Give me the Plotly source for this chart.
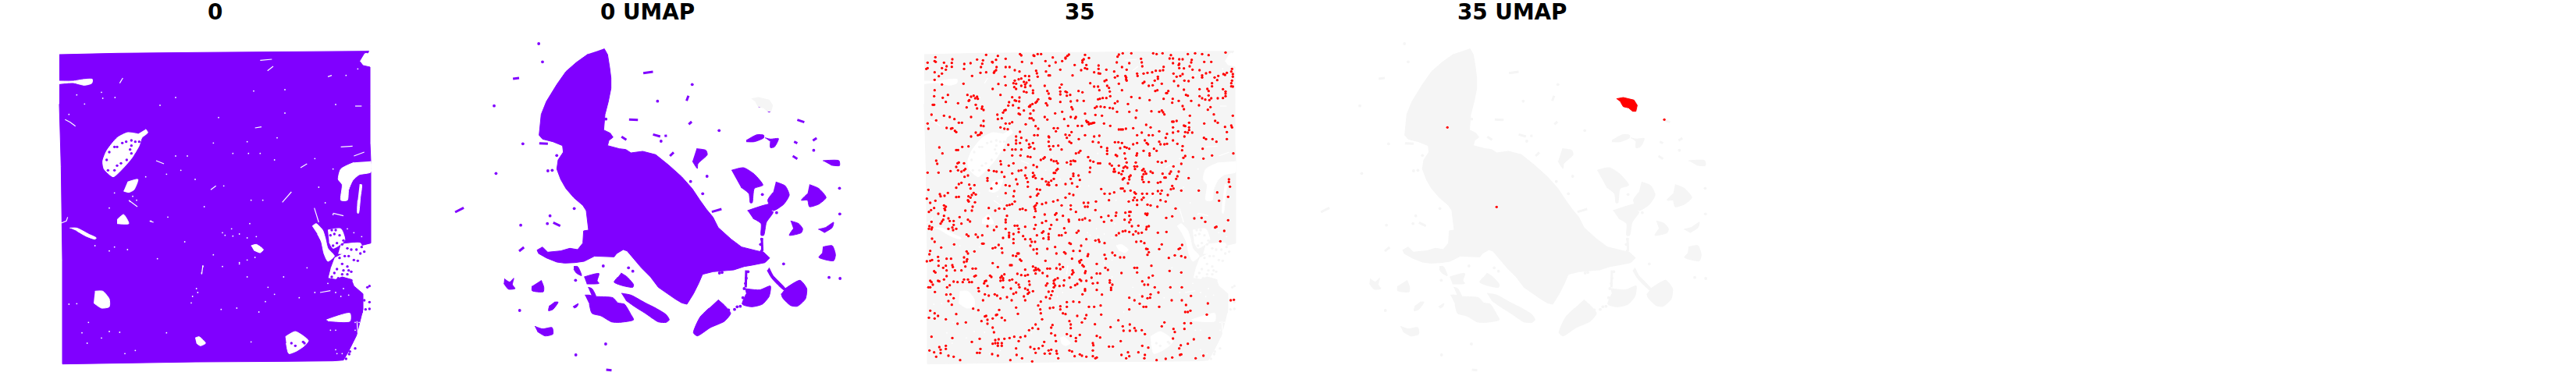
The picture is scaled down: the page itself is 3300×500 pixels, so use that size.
import plotly.graph_objects as go

PURPLE = "#8000ff"
GRAY = "#f5f5f5"
RED = "#ff0000"
TITLES = ["0", "0 UMAP", "35", "35 UMAP"]

# ---- tissue panel (panels "0" and "35") : coordinates
TISSUE_OUTLINE = [(78,210),(300,205),(600,202),(850,200),(1000,197),(1240,195),(1268,197),(1250,205),(1232,235),(1245,252),(1272,258),(1272,400),(1272,550),(1275,620),(1275,935),(1235,945),(1210,955),(1165,975),(1135,990),(1120,1030),(1110,1070),(1140,1075),(1165,1065),(1200,1075),(1210,1100),(1245,1130),(1245,1190),(1230,1250),(1220,1290),(1190,1350),(1170,1385),(1130,1388),(960,1388),(945,1390),(600,1392),(90,1400),(90,1000),(85,640),(78,400)]
TISSUE_HOLES = [
 [(410,497),(418,510),(395,530),(385,560),(355,610),(320,650),(285,680),(250,650),(245,620),(260,580),(300,530),(340,510),(380,515)],
 [(1275,620),(1275,662),(1230,672),(1205,695),(1190,730),(1185,770),(1160,770),(1165,710),(1150,690),(1160,650),(1210,625)],
 [(1232,710),(1240,710),(1235,760),(1228,820),(1224,820),(1225,770)],
 [(78,312),(130,312),(175,305),(205,305),(203,320),(175,328),(130,318),(78,322)],
 [(118,877),(145,877),(190,900),(220,915),(215,920),(180,908),(145,888)],
 [(215,1120),(245,1120),(270,1150),(270,1180),(240,1185),(210,1165)],
 [(947,1295),(985,1275),(1035,1310),(1020,1330),(990,1350),(960,1360),(950,1320)],
 [(1105,1230),(1195,1205),(1195,1235),(1110,1234)],
 [(600,1300),(615,1295),(640,1320),(620,1330),(605,1320)],
 [(815,945),(835,940),(862,960),(850,972),(825,962)],
 [(1050,870),(1065,860),(1090,885),(1100,915),(1110,955),(1135,985),(1110,1005),(1095,975),(1085,930),(1070,900)],
 [(1110,885),(1160,880),(1175,925),(1130,955),(1115,930)],
 [(1160,940),(1235,935),(1240,950),(1190,975),(1150,975)],
 [(340,700),(380,690),(365,730),(345,740),(325,735)],
 [(300,845),(325,825),(345,860),(300,860)],
]
TISSUE_CRACKS = [
 [(100,460),(120,470),(140,485)],[(85,858),(105,850),(110,835)],[(310,320),(322,300)],[(1110,295),(1125,290)],
 [(830,492),(855,488)],[(935,778),(970,738)],[(1080,1125),(1120,1118)],[(1215,408),(1240,408)],[(1160,565),(1205,562)],
 [(1005,645),(1030,630)],[(630,1020),(625,1055)],
 [(345,770),(378,795)],[(850,232),(895,228)],[(878,272),(900,255)],[(1058,800),(1075,855)],[(1222,1235),(1225,1280)],
 [(450,618),(480,630)],[(660,730),(680,715)],[(425,850),(440,855)],[(1130,820),(1170,830)],[(1210,600),(1250,585)],
]
TISSUE_SPECKS = [(115,440),(145,365),(175,400),(240,355),(245,378),(292,375),(465,405),(525,375),(945,345),(825,350),(1140,402),(690,452),(945,435),(915,530),(670,550),(800,545),(745,590),(805,590),(850,590),(905,615),(1060,610),(525,600),(570,600),(545,655),(490,670),(600,690),(710,715),(815,770),(860,770),(635,795),(495,835),(455,995),(560,930),(340,960),(270,800),(290,742),(215,945),(670,980),(705,1025),(770,1015),(815,1315),(490,1280),(165,1280),(190,1240),(145,1168),(115,1170),(310,1278),(240,1300),(270,1275),(1000,1145),(940,1065),(1030,1030),(1120,1270),(1140,1270),(1145,1360),(330,1360),(370,1348),(185,1320),(800,1065),(880,1105),(905,1132),(870,1160),(845,1200),(760,1185),(700,1190),(1180,290),(1130,650),(1225,265),(1060,1125),(1160,1140),
 (705,895),(715,905),(740,880),(745,908),(770,900),(800,915),(810,860),(835,910),(830,990),(800,1000),(770,1010),(630,1025),(625,1050),(605,1110),(610,1125),(590,1140),(585,1165),(290,950),(270,965),(360,755),(375,770),(350,775),(410,680),(430,850),(1130,825),(1100,780),(1075,720),(1185,880),(1210,895),(1240,910),(1110,1090),(1140,1125),(1170,1110),(1190,1135),(1215,1240),(1230,1240),(1140,1345),(1165,1360),(1215,1270)]
TISSUE_DOTS = [(270,585),(300,565),(320,550),(355,540),(370,545),(355,560),(350,575),(355,590),(337,615),(315,628),(300,637),(290,655),(265,655),(260,615),(290,565),(335,545),(385,545),
 (1125,885),(1140,885),(1120,905),(1135,900),(1155,905),(1170,925),(1145,935),(1165,940),(1130,945),(1185,955),(1200,960),(1220,960),(1240,950),(1250,968),(1235,975),(1175,985),(1190,985),(1155,992),(1210,1000),(1225,1003),(1165,1015),(1185,1025),(1145,1035),(1170,1040),(1190,1040),(1200,1045),(1135,1050),(1165,1055),(1185,1055),(1125,1065),(1150,1070),(1175,1075),(1200,1078),(1130,1080),(1270,1100),(1262,1105),(1270,1162),(1250,1155),(1255,1190),(1270,1188),(1240,1200),(1215,1340),(1195,1352),(1192,1362),(1180,1380),(1262,200),(970,1320),(985,1330),(1015,1315),(1020,1320)]

# ---- UMAP panels, main body and the blobs next to it (crop pixels x 3)
UMAP_BODY = [(642,187),(655,210),(663,260),(668,300),(668,340),(658,390),(645,440),(640,500),(665,512),(676,528),(660,540),(655,560),(700,572),(725,575),(745,588),(790,582),(840,595),(890,635),(940,680),(980,725),(1010,770),(1035,805),(1060,835),(1080,875),(1130,920),(1170,950),(1230,965),(1255,970),(1278,992),(1260,1010),(1210,1020),(1180,1025),(1140,1038),(1095,1042),(1060,1045),(1020,1055),(1005,1090),(985,1130),(960,1170),(940,1165),(915,1150),(850,1105),(820,1065),(785,1030),(730,965),(715,960),(690,975),(680,988),(605,985),(565,1005),(530,1010),(490,1012),(460,1008),(420,992),(390,975),(384,962),(405,950),(425,970),(475,965),(510,955),(540,960),(560,935),(563,888),(582,885),(575,830),(573,810),(560,790),(525,760),(495,725),(475,690),(460,650),(465,615),(485,585),(482,560),(445,545),(405,535),(392,520),(400,440),(420,390),(460,325),(495,275),(535,240),(580,208)]
UMAP_NEAR_BLOBS = [
 [(1080,1153),(1105,1175),(1128,1205),(1105,1235),(1050,1260),(1000,1292),(985,1280),(1010,1220),(1045,1185)],
 [(568,1135),(585,1135),(605,1140),(675,1145),(695,1165),(720,1170),(745,1210),(755,1230),(700,1240),(670,1238),(630,1215),(595,1205),(585,1170)],
 [(580,1105),(595,1110),(610,1140),(595,1140)],
 [(708,1128),(745,1135),(800,1165),(840,1185),(880,1210),(892,1230),(880,1240),(850,1238),(800,1205),(760,1180),(725,1155)],
 [(707,1050),(730,1065),(755,1095),(752,1105),(710,1098),(680,1085),(695,1065)],
 [(565,1065),(622,1052),(615,1080),(622,1090),(575,1092)],
 [(525,1025),(540,1025),(555,1060),(535,1050),(525,1035)],
 [(400,1078),(410,1105),(408,1122),(365,1118),(365,1100)],
 [(375,1255),(405,1265),(442,1260),(445,1285),(415,1292),(385,1275)],
 [(450,1162),(465,1162),(445,1190),(428,1195),(432,1175)],
]
UMAP_NEAR_DOTS = [(1195,1045),(1188,1070),(1185,1090),(1180,1110),(1175,1145),(1165,1178),(1153,1180),(1143,1190),(1120,1192),(1085,1050),(1095,1048),(1247,965),(1243,940),(1247,920)]

# blobs further out (read on the wider crop, whose x is widened below)
UMAP_FAR_BLOBS = [
 [(1145,1110),(1200,1115),(1240,1100),(1235,1140),(1210,1170),(1170,1180),(1135,1170),(1150,1130)],
 [(1295,1110),(1350,1078),(1375,1110),(1370,1150),(1340,1178),(1315,1175),(1285,1145),(1280,1130)],
 [(1235,1030),(1250,1060),(1295,1110),(1290,1115),(1245,1070),(1228,1040)],
 [(1095,655),(1140,645),(1180,670),(1212,712),(1180,725),(1172,780),(1165,780),(1160,745),(1130,720)],
 [(1260,700),(1295,715),(1310,750),(1290,785),(1250,810),(1230,770),(1250,740)],
 [(1155,810),(1250,815),(1225,855),(1215,905),(1205,905),(1205,860),(1175,840)],
 [(1155,810),(1240,785),(1250,800),(1240,815)],
 [(1385,710),(1420,725),(1447,760),(1420,785),(1385,795),(1378,770),(1355,770),(1378,745)],
 [(1315,850),(1345,860),(1360,880),(1355,895),(1310,905),(1325,880)],
 [(1418,882),(1445,875),(1475,855),(1470,875),(1440,895)],
 [(1435,950),(1470,945),(1482,980),(1475,1003),(1420,990),(1432,975)],
 [(1435,618),(1495,618),(1497,637),(1465,635)],
 [(965,572),(1000,578),(1005,595),(970,630),(968,648),(950,620)],
 [(1150,540),(1190,518),(1215,520),(1215,530),(1180,545),(1150,545)],
 [(1220,530),(1240,535),(1270,533),(1255,565),(1240,568),(1240,545)],
 [(250,1072),(270,1085),(285,1070),(280,1095),(290,1110),(265,1112),(248,1090)],
 [(505,1180),(525,1168),(520,1180),(510,1185)],
]
UMAP_STROKES = [
 [(67,816),(99,799)],[(282,303),(305,300)],[(767,281),(803,276)],[(714,460),(747,461)],[(1022,815),(1058,804)],
 [(1340,461),(1366,470)],[(803,517),(830,525)],[(846,523),(855,522)],[(686,526),(704,538)],[(1328,545),(1340,551)],
 [(1323,600),(1340,611)],[(1398,541),(1412,531)],[(866,600),(880,586)],[(935,368),(928,388)],[(936,478),(947,468)],
 [(305,966),(323,951)],[(432,856),(458,869)],[(380,551),(412,553)],[(629,1422),(649,1424)],[(1208,915),(1210,965)],
 [(1150,1040),(1148,1105)],
]
UMAP_DOTS = [(378,168),(392,238),(212,407),(219,667),(319,553),(412,657),(428,655),(510,802),(420,830),(311,866),(410,860),(618,1023),(515,1078),(712,1030),(728,1043),(307,1194),(627,1323),(516,1365),(1289,1015),(1458,1067),(1499,1071),(1498,823),(1497,724),(1004,678),(943,698),(988,745),(949,325),(820,389),(1049,502),(833,543),(1210,748),(445,598),(628,458),(1200,408),(1214,403),(1228,417),(1235,427),(1263,818),(1401,578)]
UMAP_GRAY_BLOB = [(1170,380),(1195,375),(1235,385),(1248,405),(1242,428),(1230,428),(1215,415),(1195,410),(1185,392)]

# ---- cluster 35, UMAP panel (x read in that panel's own crop)
RED_BLOB = [(1135,380),(1160,375),(1200,385),(1212,405),(1207,428),(1195,428),(1180,415),(1160,410),(1150,392)]
RED_UMAP_DOTS = [(506,490),(689,796),(1313,460)]

# ---- cluster 35, tissue panel (x read in that panel's own crop)
RED_DOTS = [(410,208),(415,213),(462,213),(478,208),(491,208),(536,221),(585,222),(592,215),(598,210),(660,211),(790,210),(805,205),(838,205),(922,205),(935,208),(958,205),(990,212),(1055,208),(1083,205),(1110,208),(1135,212),(1200,202),
(85,220),(82,235),(86,238),(55,241),(118,241),(150,228),(148,242),(196,246),(220,243),(245,229),(268,232),(280,211),(303,238),(318,230),(325,215),(355,226),(418,238),(455,243),(465,215),(508,235),(547,240),(572,235),(585,225),(650,232),(655,228),(675,223),(650,240),(785,218),(782,240),(830,243),(875,226),(878,240),(985,225),(998,225),(1022,228),(1035,228),(1070,230),(1118,238),(1145,238),(998,243),(1022,245),(1068,240),(1020,250),
(50,265),(55,262),(110,262),(128,255),(125,268),(148,257),(195,265),(260,258),(265,245),(305,240),(320,258),(355,258),(370,258),(390,270),(408,275),(472,272),(475,282),(478,295),(523,253),(565,268),(510,275),(525,290),(520,290),(620,250),(665,250),(660,262),(668,265),(645,270),(712,252),(712,265),(742,268),(772,275),(802,258),(820,268),(880,255),(962,257),(960,270),(1022,262),(1040,263),(1062,255),(1073,268),(1100,270),(1125,282),(1140,278),(1225,265),(1222,275),(1205,280),(1192,285),(1228,285),(82,278),(110,283),(98,293),(226,292),(258,280),(280,278),(312,275),(318,270),(310,280),(352,295),(430,292),(445,293),(612,290),(695,278),(712,282),(718,283),(785,292),(815,292),(818,298),(860,283),(862,292),(885,283),(900,280),(918,278),(932,272),(948,272),(940,295),(1000,283),(1026,292),(1012,295),(1035,285),(1075,298),(1110,290),(1110,298),(1158,298),(1172,292),(1198,288),(1228,295),
(82,307),(110,325),(193,322),(390,310),(405,305),(415,302),(425,315),(445,308),(385,320),(395,322),(388,335),(415,330),(430,325),(435,318),(450,330),(430,335),(395,342),(327,323),(305,342),(355,328),(505,330),(570,325),(563,337),(680,320),(695,333),(710,333),(735,312),(742,308),(745,330),(752,338),(790,322),(818,305),(820,310),(775,298),(802,347),(888,315),(882,320),(905,330),(920,328),(928,310),(940,303),(955,322),(1002,312),(1018,330),(1042,310),(1058,312),(1148,320),(1148,332),(1168,308),(1225,310),(1222,320),(1222,332),(1228,333),(1040,345),(938,347),(930,350),(1100,343),(1130,342),(1135,350),(1190,343),
(82,347),(425,352),(435,355),(460,348),(460,358),(515,350),(520,360),(565,352),(590,355),(635,350),(650,355),(715,347),(755,352),(980,350),(972,358),
(80,370),(113,376),(133,365),(208,365),(222,372),(232,368),(238,378),(245,372),(248,380),(215,385),(213,388),(125,392),(172,397),(75,403),(80,403),(240,403),(205,413),(335,365),(380,374),(390,386),(395,388),(407,390),(408,375),(368,393),(383,405),(365,406),(480,382),(475,390),(470,395),(458,400),(450,405),(448,410),(510,397),(515,405),(523,378),(527,380),(565,363),(565,392),(585,352),(603,365),(590,368),(605,390),(630,387),(655,388),(717,380),(710,382),(728,377),(742,377),(757,370),(785,390),(775,397),(838,373),(870,377),(908,385),(962,380),(975,358),(997,380),(995,395),(1048,365),(1055,368),(1068,388),(1100,370),(1110,378),(1135,367),(1122,383),(1138,385),(1145,378),(1170,378),(1190,377),(1200,370),(1200,360),(1200,352),(1098,405),(1020,388),(825,400),(1035,408),
(265,410),(263,418),(270,423),(245,417),(350,425),(355,423),(345,433),(323,441),(340,455),(325,458),(405,415),(405,437),(410,440),(425,425),(450,437),(445,410),(462,425),(455,455),(462,462),(447,455),(545,436),(572,430),(608,412),(612,420),(605,450),(580,458),(625,450),(622,455),(660,437),(698,415),(705,410),(720,410),(735,412),(755,415),(767,417),(783,430),(830,430),(858,425),(915,428),(945,430),(955,425),(960,432),(965,440),(1040,420),(1063,445),(1132,422),(1142,412),(1155,440),(1228,445),(70,441),(88,463),(118,445),(140,450),(158,458),(175,472),(187,472),(222,450),(270,465),(380,470),(370,475),(355,475),(505,450),(515,460),(700,442),(725,445),(855,453),(1160,465),(1170,472),(55,475),(1000,468),(1012,465),(1060,472),(1045,485),(1118,475),
(665,465),(672,470),(680,475),(690,473),(675,478),(668,470),(685,475),(695,472),
(58,495),(128,492),(145,495),(150,493),(160,503),(165,508),(260,483),(270,485),(260,510),(255,518),(248,520),(262,512),(240,510),(222,525),(335,490),(350,495),(363,497),(432,478),(470,485),(480,495),(478,520),(465,520),(395,525),(410,507),(415,530),(520,525),(522,528),(540,493),(555,493),(548,505),(595,484),(632,484),(648,484),(733,475),(757,484),(608,508),(600,520),(585,518),(660,520),(695,525),(715,522),(790,498),(798,498),(805,498),(817,495),(845,493),(895,480),(912,490),(860,520),(878,510),(905,520),(920,520),(945,505),(975,515),(970,530),(995,468),(998,490),(998,510),(1040,483),(1060,490),(1060,500),(1045,508),(1042,525),(1072,510),(1018,505),(1055,510),(1117,530),(1125,535),(1198,488),(1222,483),(1225,490),(1205,508),(1205,535),(1150,535),
(435,540),(445,555),(460,550),(450,565),(445,568),(395,540),(410,550),(395,552),(365,557),(380,575),(393,575),(415,575),(465,572),(350,577),(380,598),(412,598),(520,545),(522,562),(538,562),(527,575),(557,560),(570,575),(600,545),(607,550),(590,530),(636,535),(690,545),(712,548),(722,565),(745,570),(745,580),(775,547),(788,547),(802,550),(795,570),(812,565),(820,568),(830,572),(845,555),(860,550),(890,540),(897,550),(902,555),(945,545),(950,555),(965,555),(975,553),(998,540),(1015,553),(1035,562),(1112,572),(1165,545),(1033,578),(925,572),(935,580),(885,580),(860,590),(858,598),(908,590),(908,598),(812,590),(778,596),(783,600),(745,592),(642,580),(636,587),(625,590),(165,577),(172,577),(188,565),(212,563),(100,567),(112,590),(1230,590),(1148,598),(1075,604),(1115,610),(1045,600),(1038,607),
(440,602),(450,604),(505,605),(500,610),(490,615),(530,615),(540,620),(550,620),(555,628),(590,625),(605,620),(615,618),(622,620),(605,632),(672,604),(680,618),(692,622),(710,628),(718,628),(755,630),(763,637),(815,610),(820,625),(815,640),(808,645),(822,645),(790,637),(855,625),(850,640),(860,640),(852,650),(885,650),(890,660),(895,668),(912,660),(920,665),(940,622),(955,625),(970,620),(1000,640),(1030,630),(88,618),(92,630),(170,628),(175,625),(165,642),(195,628),(200,650),(195,655),(172,655),(185,660),(55,664),(97,664),(143,658),(335,620),(337,632),(385,628),(367,637),(290,655),(310,658),(320,660),(340,662),(380,667),(405,657),(415,655),(432,645),(462,635),(475,642),(460,665),(540,665),(550,655),(555,650),(545,665),(615,668),(635,675),(680,645),(678,662),(772,650),(775,660),(805,658),(770,660),(790,665),(800,670),(830,680),(835,675),(880,655),(885,670),(880,680),(990,660),(985,668),(965,683),(958,668),(1020,660),(1015,678),(1010,688),(430,675),(435,685),(465,675),(470,685),(460,680),(495,688),(540,688),(530,695),(510,698),(520,702),(615,677),(640,692),(605,688),(805,690),(810,685),(830,690),(825,705),(880,690),(885,700),(905,700),(940,703),(950,700),(970,683),(1058,685),(210,675),(197,680),(285,685),(285,695),(350,680),(395,690),(440,700),
(185,703),(175,708),(165,722),(215,710),(220,725),(235,712),(320,705),(300,725),(355,712),(370,715),(400,708),(58,730),(440,718),(515,710),(522,712),(550,712),(585,708),(610,705),(630,718),(475,728),(487,730),(480,745),(475,752),(355,743),(388,735),(385,755),(102,747),(105,755),(120,753),(133,742),(165,758),(175,757),(212,755),(225,750),(232,742),(240,748),(220,760),(210,770),(213,775),(237,778),(228,795),(52,764),(65,780),(85,772),(118,790),(125,795),(120,802),(80,800),(600,745),(615,750),(585,760),(722,727),(735,745),(755,745),(772,740),(805,725),(798,725),(812,735),(835,733),(850,740),(855,745),(880,745),(885,760),(878,768),(860,770),(850,760),(845,770),(828,775),(898,745),(920,745),(940,735),(950,745),(955,733),(978,750),(995,715),(1000,725),(990,728),(1030,733),(1097,733),(1168,740),(1213,690),(1213,700),(1217,718),(1210,757),(1175,772),(450,757),(390,775),(380,785),(370,788),(360,790),(475,782),(495,785),(470,790),(465,795),(538,775),(555,770),(510,780),(655,780),(672,780),(702,775),(752,770),(950,770),(970,775),(938,795),(860,788),(900,787),(912,790),
(410,805),(420,803),(432,808),(330,802),(315,810),(350,803),(290,800),(200,810),(225,810),(60,815),(68,808),(122,808),(96,822),(118,830),(115,845),(110,852),(105,860),(135,840),(140,850),(155,850),(178,835),(155,865),(185,860),(210,845),(218,852),(70,853),(62,870),(72,875),(60,880),(70,882),(135,880),(150,875),(153,885),(165,880),(360,830),(355,845),(288,840),(355,855),(285,870),(320,872),(310,885),(470,812),(468,803),(355,880),(390,868),(400,868),(405,880),(430,872),(465,835),(470,865),(465,880),(505,825),(510,850),(495,857),(545,826),(550,820),(575,830),(552,845),(597,845),(598,852),(605,790),(570,790),(625,815),(605,805),(660,795),(670,795),(700,808),(638,845),(650,845),(660,840),(678,848),(722,835),(733,853),(750,830),(762,848),(780,818),(778,830),(815,818),(812,845),(830,815),(835,815),(830,830),(835,845),(830,855),(840,870),(865,868),(905,870),(897,873),(895,882),(892,822),(900,822),(898,827),(1008,802),(972,838),(995,832),(1080,840),(1108,838),(1122,853),(1210,847),(1165,872),(1160,875),(1195,888),(530,865),(525,880),(500,890),(580,878),(585,895),(635,888),(628,895),(805,890),(815,888),(830,892),(855,890),(865,897),(878,895),(940,895),(973,892),
(205,902),(212,908),(240,902),(265,905),(248,912),(368,895),(368,905),(368,912),(345,915),(385,900),(405,893),(422,908),(430,920),(450,920),(455,930),(468,930),(495,895),(475,905),(500,917),(520,900),(520,912),(520,920),(560,905),(570,905),(600,935),(605,938),(640,965),(645,945),(665,920),(700,925),(712,922),(715,930),(735,935),(780,905),(790,897),(845,902),(857,930),(875,928),(888,935),(72,918),(82,930),(157,940),(265,937),(270,937),(107,952),(385,920),(385,935),(450,945),(475,958),(462,960),(515,957),(545,950),(580,970),(615,965),(328,942),(305,955),(315,952),(340,955),(895,957),(900,958),(955,940),(945,958),(1033,942),(1025,955),(1020,958),(1180,928),(65,965),(62,978),(205,967),(210,975),(235,967),(342,972),(475,975),(400,975),(395,985),(383,983),(405,975),(765,972),(775,982),(735,980),(672,978),(670,985),(550,975),(585,975),(905,970),(900,980),(1005,982),(1030,985),(982,992),(1045,990),(810,990),(795,990),(740,995),(95,988),(128,995),(145,995),(195,990),(207,997),(205,1005),(72,1000),(65,1003),(52,1005),(97,1003),
(410,998),(415,1003),(508,1003),(610,995),(638,1005),(645,1000),(640,1010),(650,1020),(655,1025),(305,1012),(200,1025),(195,1008),(150,1020),(152,1027),(125,1022),(115,1030),(97,1022),(228,1033),(240,1033),(325,1027),(372,1020),(378,1020),(460,1025),(470,1030),(480,1035),(465,1040),(472,1038),(485,1040),(430,1037),(497,1050),(515,1033),(525,1033),(550,1032),(562,1017),(575,1027),(565,1035),(612,1040),(615,1048),(662,1043),(660,1050),(705,1015),(738,1030),(748,1038),(850,1030),(860,1030),(860,1048),(915,1022),(985,1042),(1030,1048),(80,1043),(85,1048),(128,1040),(185,1040),(160,1040),(240,1060),(235,1063),(350,1055),(340,1062),(335,1068),(345,1070),(295,1060),(300,1065),(400,1053),(415,1058),(430,1060),(440,1057),(470,1052),(515,1062),(545,1075),(555,1070),(600,1068),(610,1055),(580,1078),(640,1075),(645,1080),(665,1080),(685,1068),(705,1052),(718,1052),(800,1050),(920,1060),(905,1068),(128,1062),(118,1075),(95,1080),(100,1082),(65,1080),(70,1085),(75,1095),(210,1075),(215,1085),(225,1085),(195,1075),(155,1083),(170,1085),(190,1085),(275,1082),(280,1080),(272,1090),(335,1080),(345,1078),(370,1078),(380,1075),(395,1087),(405,1095),(445,1082),(447,1095),(515,1090),(510,1098),(540,1080),(540,1090),(545,1098),(630,1092),(622,1097),(578,1098),(690,1090),(708,1088),(755,1078),(755,1087),(765,1095),(880,1082),(888,1095),(902,1095),(928,1105),(988,1105),(1032,1105),
(58,1105),(65,1105),(130,1105),(140,1097),(250,1108),(285,1100),(345,1105),(375,1110),(408,1105),(430,1110),(440,1115),(460,1120),(445,1125),(440,1130),(425,1140),(385,1130),(395,1125),(520,1122),(535,1120),(540,1105),(562,1100),(605,1105),(660,1112),(660,1118),(705,1115),(760,1107),(760,1115),(942,1125),(650,1132),(725,1133),(83,1123),(127,1133),(143,1132),(155,1147),(135,1158),(148,1172),(252,1120),(275,1132),(290,1137),(313,1132),(322,1137),(335,1148),(360,1143),(378,1155),(430,1155),(490,1160),(510,1143),(525,1148),(530,1135),(830,1145),(850,1155),(880,1140),(912,1132),(910,1145),(900,1147),(1067,1138),(1032,1155),(993,1155),(590,1162),(615,1160),(638,1162),(268,1155),(870,1168),(885,1180),(895,1180),(830,1190),(1132,1167),(1220,1155),(1232,1153),(1048,1173),(1045,1200),(1055,1200),(1065,1195),(480,1175),(488,1190),(525,1185),(538,1183),(565,1178),(565,1190),(590,1180),(675,1180),(695,1180),(720,1175),(230,1187),(250,1193),(330,1192),(395,1183),(945,1180),(402,1207),(490,1205),(575,1205),(585,1208),
(65,1195),(82,1205),(60,1222),(82,1225),(95,1215),(125,1228),(165,1208),(280,1215),(275,1217),(318,1212),(322,1210),(340,1222),(352,1232),(305,1225),(285,1230),(262,1235),(285,1245),(170,1245),(202,1240),(495,1228),(630,1215),(665,1212),(722,1210),(1128,1210),(788,1232),(660,1225),(600,1235),(605,1248),(605,1262),(648,1240),(470,1248),(535,1250),(530,1260),(458,1262),(445,1270),(480,1265),(305,1260),(310,1278),(698,1247),(758,1258),(805,1255),(832,1248),(850,1262),(832,1272),(855,1272),(878,1270),(808,1272),(965,1240),(955,1255),(1000,1265),(1005,1277),(1042,1243),(1067,1243),(1042,1265),(530,1282),(545,1290),(590,1285),(605,1292),(640,1288),(705,1292),(718,1298),(890,1285),(1138,1300),(1078,1305),(998,1302),(70,1295),(150,1300),(225,1315),(255,1303),(315,1308),(328,1305),(350,1303),(370,1300),(388,1295),(412,1297),(430,1293),(625,1300),(625,1312),
(305,1322),(315,1320),(325,1320),(340,1320),(325,1330),(340,1330),(405,1312),(395,1340),(450,1335),(465,1342),(482,1340),(497,1330),(503,1315),(548,1312),(530,1345),(520,1348),(550,1350),(552,1360),(600,1348),(610,1352),(690,1320),(692,1328),(690,1348),(752,1333),(767,1333),(797,1312),(880,1330),(903,1337),(1028,1328),(1022,1340),(1055,1322),(62,1348),(80,1355),(100,1335),(125,1330),(105,1345),(125,1342),(105,1358),(135,1368),(88,1372),(155,1372),(180,1385),(245,1357),(255,1357),(258,1342),(303,1362),(325,1368),(397,1365),(373,1385),(418,1378),(457,1390),(470,1357),(505,1360),(525,1360),(557,1378),(620,1370),(640,1363),(648,1368),(665,1372),(690,1370),(700,1378),(705,1375),(800,1365),(818,1378),(825,1355),(830,1370),(865,1355),(890,1365),(888,1378),(935,1385),(970,1380),(995,1375),(1025,1365),(1030,1363),(1085,1378),(1115,1368)]

W, H = 3300, 500
TISSUE_RED_SHIFT = 36
WIDEN = 1.033            # the wide crop was read at a slightly smaller scale
UMAP_RED_SHIFT = 33
PANEL_LEFT = [50, 560, 1158, 1669]
PANEL_WIDTH = [460, 540, 460, 540]
TITLE_X = [275.7, 829, 1383.7, 1937]


def widen(pts, dx=0):
    return [(p[0] * WIDEN + dx, p[1]) for p in pts]


def flat(polys, dx=0):
    xs, ys = [], []
    for p in polys:
        xs += [q[0] + dx for q in p] + [None]
        ys += [q[1] for q in p] + [None]
    return xs, ys


def fill(fig, polys, color, ax, dx=0, shape="linear"):
    x, y = flat(polys, dx)
    fig.add_trace(go.Scatter(x=x, y=y, mode="lines", fill="toself", fillcolor=color,
                             line=dict(color=color, width=1, shape=shape, smoothing=0.6),
                             hoverinfo="skip", xaxis=f"x{ax}", yaxis=f"y{ax}"))


def lines(fig, polys, color, width, ax):
    x, y = flat(polys)
    fig.add_trace(go.Scatter(x=x, y=y, mode="lines", line=dict(color=color, width=width),
                             hoverinfo="skip", xaxis=f"x{ax}", yaxis=f"y{ax}"))


def dots(fig, pts, color, size, ax, dx=0):
    fig.add_trace(go.Scatter(x=[p[0] + dx for p in pts], y=[p[1] for p in pts], mode="markers",
                             marker=dict(color=color, size=size, line=dict(width=0)),
                             hoverinfo="skip", xaxis=f"x{ax}", yaxis=f"y{ax}"))


fig = go.Figure()


def tissue(color, ax):
    fill(fig, [TISSUE_OUTLINE], color, ax)
    fill(fig, TISSUE_HOLES, "#ffffff", ax, shape="spline")
    lines(fig, TISSUE_CRACKS, "#ffffff", 1.2, ax)
    dots(fig, TISSUE_SPECKS, "#ffffff", 1.8, ax)
    dots(fig, TISSUE_DOTS, color, 3.4, ax)


def umap(color, ax):
    fill(fig, [UMAP_BODY], color, ax)
    fill(fig, UMAP_NEAR_BLOBS + [widen(b) for b in UMAP_FAR_BLOBS], color, ax, shape="spline")
    lines(fig, [widen(s) for s in UMAP_STROKES], color, 3, ax)
    dots(fig, widen(UMAP_DOTS) + UMAP_NEAR_DOTS, color, 3.8, ax)


tissue(PURPLE, 1)
umap(PURPLE, 2)
fill(fig, [widen(UMAP_GRAY_BLOB)], GRAY, 2)
tissue(GRAY, 3)
dots(fig, RED_DOTS, RED, 3.3, 3, TISSUE_RED_SHIFT)
umap(GRAY, 4)
fill(fig, [widen(UMAP_GRAY_BLOB)], GRAY, 4)
fill(fig, [widen(RED_BLOB, UMAP_RED_SHIFT)], RED, 4)
dots(fig, widen(RED_UMAP_DOTS, UMAP_RED_SHIFT), RED, 3.3, 4)

layout = dict(width=W, height=H, margin=dict(l=0, r=0, t=0, b=0), showlegend=False,
              paper_bgcolor="#ffffff", plot_bgcolor="#ffffff")
annos = []
for i in range(4):
    s = "" if i == 0 else str(i + 1)
    left, wid = PANEL_LEFT[i], PANEL_WIDTH[i]
    layout[f"xaxis{s}"] = dict(domain=[left / W, (left + wid) / W], range=[0, wid * 3], visible=False,
                               anchor=f"y{s}")
    layout[f"yaxis{s}"] = dict(domain=[0, 1], range=[1500, 0], visible=False, anchor=f"x{s}")
    annos.append(dict(text=f"<b>{TITLES[i]}</b>", x=TITLE_X[i] / W, y=1 - 15.7 / H, xref="paper", yref="paper",
                      xanchor="center", yanchor="middle", showarrow=False,
                      font=dict(family="DejaVu Sans", size=27.8, color="#000000")))
layout["annotations"] = annos
fig.update_layout(**layout)
fig.write_html("out.html", config={"displayModeBar": False},
               post_script="document.body.style.margin='0';")
